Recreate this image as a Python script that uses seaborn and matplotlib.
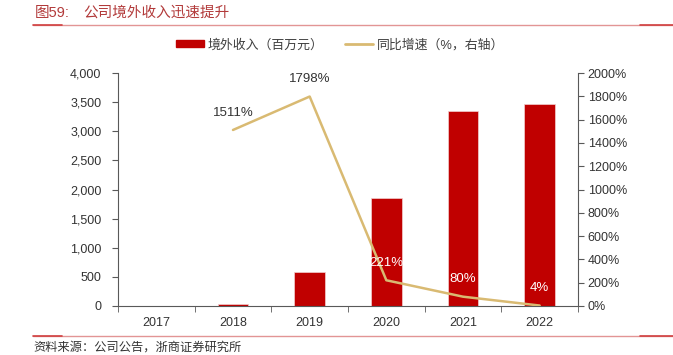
import numpy as np
import matplotlib
matplotlib.use("Agg")

import matplotlib.pyplot as plt
import seaborn as sns
from matplotlib.ticker import FuncFormatter, FixedLocator, MultipleLocator
from matplotlib.lines import Line2D
from matplotlib.patches import Patch


# ==============================
# DATA
# ==============================
years = ["2017", "2018", "2019", "2020", "2021", "2022"]
revenue = [1.9, 30, 580, 1860, 3350, 3470]          # 境外收入（百万元）

growth_years = ["2018", "2019", "2020", "2021", "2022"]
growth = [1511, 1798, 221, 80, 4]                    # 同比增速（%）

title_no = "图59:"
title_text = "公司境外收入迅速提升"
bar_label = "境外收入（百万元）"
line_label = "同比增速（%，右轴）"
source_text = "资料来源：公司公告，浙商证券研究所"


# ==============================
# STYLE
# ==============================
BAR_COLOR = "#C00000"
LINE_COLOR = "#D9BA72"
TITLE_COLOR = "#B23A3A"
TEXT_COLOR = "#333333"
SPINE_COLOR = "#595959"

sns.set_style("white")
plt.rcParams["font.family"] = ["Liberation Sans", "Noto Sans CJK SC", "DejaVu Sans"]

W, H = 673, 355
fig = plt.figure(figsize=(W / 100, H / 100), dpi=100)
ax = fig.add_axes([118 / W, 1 - 306 / H, (578 - 118) / W, 233 / H])


# ==============================
# BARS (left axis)
# ==============================
sns.barplot(x=years, y=revenue, color=BAR_COLOR, saturation=1, width=0.4,
            edgecolor="#F2D0D0", linewidth=0.5, ax=ax)

ax.set_xlim(-0.5, len(years) - 0.5)
ax.set_ylim(0, 4000)
ax.yaxis.set_major_locator(MultipleLocator(500))
ax.yaxis.set_major_formatter(FuncFormatter(lambda v, p: f"{int(v):,}"))


# ==============================
# LINE (right axis)
# ==============================
ax2 = ax.twinx()
sns.pointplot(x=growth_years, y=growth, order=years, color=LINE_COLOR,
              markers="", linewidth=1.8, errorbar=None, ax=ax2)
ax2.set_xlim(-0.5, len(years) - 0.5)
ax2.set_ylim(0, 2000)
ax2.yaxis.set_major_locator(MultipleLocator(200))
ax2.yaxis.set_major_formatter(FuncFormatter(lambda v, p: f"{int(v)}%"))

# labels above line points
for yr, g in zip(growth_years, growth):
    i = years.index(yr)
    inside = revenue[i] / 2 > g + 150
    ax2.annotate(f"{g}%", (i, g), xytext=(0, 12.5), textcoords="offset points",
                 ha="center", va="center", fontsize=9.5,
                 color="white" if inside else TEXT_COLOR)


# ==============================
# AXES LOOK
# ==============================
for a in (ax, ax2):
    a.set_xlabel("")
    a.set_ylabel("")
    for s in a.spines.values():
        s.set_visible(False)
        s.set_color(SPINE_COLOR)
        s.set_linewidth(0.8)

ax.spines["left"].set_visible(True)
ax.spines["bottom"].set_visible(True)
ax2.spines["right"].set_visible(True)

ax.set_xticks(range(len(years)))
ax.set_xticklabels(years)
ax.xaxis.set_minor_locator(FixedLocator(np.arange(-0.5, len(years), 1)))
ax.tick_params(axis="x", which="major", length=0, pad=8, labelsize=9, labelcolor=TEXT_COLOR)
ax.tick_params(axis="x", which="minor", length=4, direction="out", color=SPINE_COLOR, bottom=True)
ax.tick_params(axis="y", length=4, direction="out", color=SPINE_COLOR, left=True,
               labelsize=9, labelcolor=TEXT_COLOR, pad=8)
ax2.tick_params(axis="y", length=4, direction="out", color=SPINE_COLOR, right=True,
                labelsize=9, labelcolor=TEXT_COLOR, pad=3)
ax2.tick_params(axis="x", length=0, labelbottom=False)


# ==============================
# LEGEND
# ==============================
handles = [Patch(color=BAR_COLOR), Line2D([0], [0], color=LINE_COLOR, lw=2)]
leg = fig.legend(handles, [bar_label, line_label], loc="center",
                 bbox_to_anchor=(340 / W, 1 - 45 / H), ncol=2, frameon=False,
                 fontsize=9.3, handlelength=2.2, handleheight=0.45,
                 columnspacing=1.6, handletextpad=0.3)
for t in leg.get_texts():
    t.set_color("#404040")


# ==============================
# TITLE / SOURCE / RULES
# ==============================
fig.text(35 / W, 1 - 13 / H, title_no, color=TITLE_COLOR, fontsize=10.5, va="center")
fig.text(83 / W, 1 - 13 / H, title_text, color=TITLE_COLOR, fontsize=10.5, va="center")

for yy in (25, 336):
    y = 1 - yy / H
    fig.add_artist(Line2D([33 / W, 1], [y, y], color="#E29595", lw=1.0))
    fig.add_artist(Line2D([33 / W, 62 / W], [y, y], color="#D04040", lw=1.2))
    fig.add_artist(Line2D([640 / W, 1], [y, y], color="#D04040", lw=1.2))

fig.text(33 / W, 1 - 347.5 / H, source_text, color=TEXT_COLOR, fontsize=8.8, va="center")

fig.savefig("out.png", dpi=100)
plt.close()
